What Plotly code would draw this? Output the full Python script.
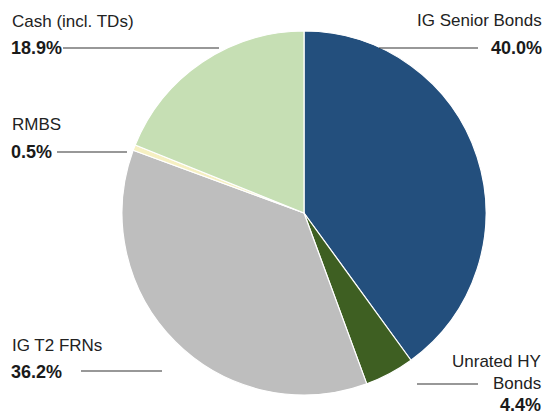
import plotly.graph_objects as go

labels = ["IG Senior Bonds", "Unrated HY Bonds", "IG T2 FRNs", "RMBS", "Cash (incl. TDs)"]
values = [40.0, 4.4, 36.2, 0.5, 18.9]
colors = ["#234f7d", "#3e5f22", "#bebebe", "#f6f0c2", "#c6dfb4"]

W, H = 546, 416
cx, cy, r = 304, 213, 182

def px(x):
    return x / W

def py(y):
    return 1 - y / H

fig = go.Figure(go.Pie(
    labels=labels, values=values, sort=False, direction="clockwise", rotation=0,
    marker=dict(colors=colors, line=dict(color="white", width=1.2)),
    textinfo="none", hoverinfo="none", showlegend=False,
    domain=dict(x=[px(cx - r), px(cx + r)], y=[py(cy + r), py(cy - r)]),
))

font_reg = dict(family="Liberation Sans, Arial, sans-serif", size=17, color="#222222")
font_bold = dict(family="Liberation Sans, Arial, sans-serif", size=18, color="#1a1a1a")

# (text, x, y, xanchor, bold)
texts = [
    ("Cash (incl. TDs)", 10, 21, "left", False),
    ("18.9%", 9, 48, "left", True),
    ("IG Senior Bonds", 544, 20, "right", False),
    ("40.0%", 544, 48, "right", True),
    ("RMBS", 10, 125, "left", False),
    ("0.5%", 9, 152, "left", True),
    ("IG T2 FRNs", 10, 345, "left", False),
    ("36.2%", 9, 372, "left", True),
    ("Unrated HY", 543, 361, "right", False),
    ("Bonds", 543, 383, "right", False),
    ("4.4%", 543, 405, "right", True),
]
annotations = []
for t, x, y, xa, b in texts:
    annotations.append(dict(
        text=f"<b>{t}</b>" if b else t, x=px(x), y=py(y), xref="paper", yref="paper",
        xanchor=xa, yanchor="middle", showarrow=False,
        font=font_bold if b else font_reg,
    ))

leader_lines = [
    (63, 219, 48),
    (379, 478, 48),
    (57, 127, 152),
    (81, 162, 371),
    (417, 478, 384),
]
shapes = []
for x0, x1, y in leader_lines:
    shapes.append(dict(type="line", xref="paper", yref="paper",
                       x0=px(x0), x1=px(x1), y0=py(y), y1=py(y),
                       line=dict(color="#333333", width=1.2)))

fig.update_layout(
    width=W, height=H, margin=dict(l=0, r=0, t=0, b=0),
    paper_bgcolor="white", plot_bgcolor="white",
    annotations=annotations, shapes=shapes,
)

fig.write_html("out.html", config={"displayModeBar": False},
               post_script="document.body.style.margin='0px';")
